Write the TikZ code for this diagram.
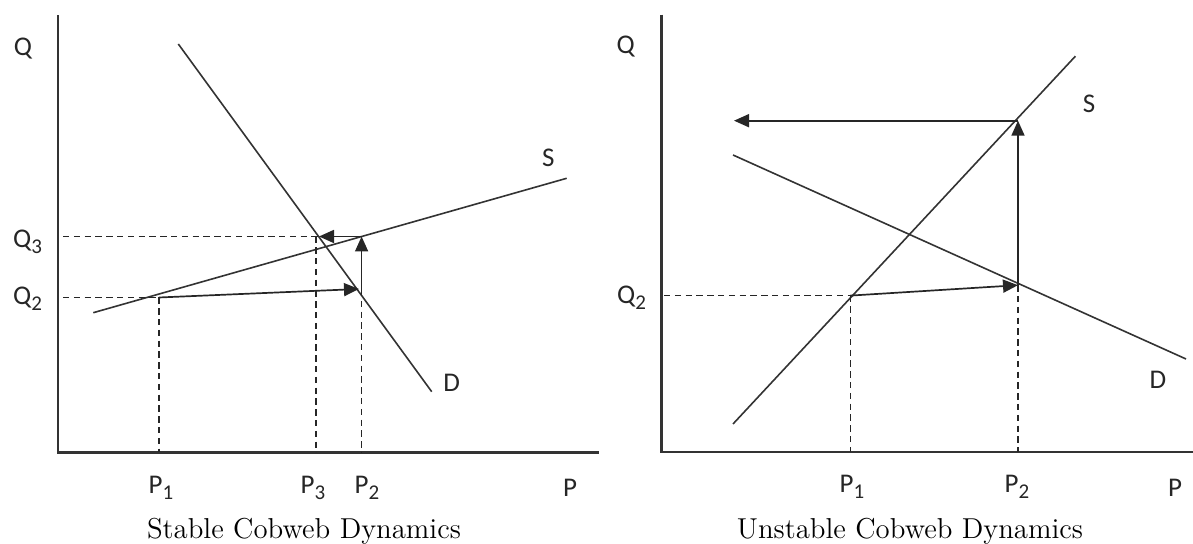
\documentclass[tikz,border=0pt]{standalone}
\usepackage{fontspec}
\newfontfamily\lblfont{Carlito}
\usetikzlibrary{arrows.meta,positioning,calc}
\newcommand{\lsub}[1]{\raisebox{-0.45ex}{\fontsize{10.5}{12}\selectfont #1}}
\tikzset{
  ax/.style={line width=1.2pt,black!80},
  curve/.style={line width=0.8pt,black!80},
  helperln/.style={dash pattern=on 3.2pt off 2.2pt,line width=0.75pt,black!85},
  stepar/.style={-{Triangle[length=7.5pt,width=6.5pt]},line width=0.85pt,black!85},
  tlab/.style={font=\lblfont\fontsize{13.5}{15}\selectfont,inner sep=0pt,black!85},
  captxt/.style={font=\fontsize{14.4}{17}\selectfont,inner sep=0pt},
}

\begin{document}
\begin{tikzpicture}[x=0.5pt,y=0.5pt]
  \useasboundingbox (0,0) rectangle (1193,544);
  % ---- stable ----
  \coordinate (o1) at (58,91.5);
  \coordinate (qtop1) at (58,528.5);
  \coordinate (pend1) at (599,91.5);
  \coordinate (dtop1) at (178.3,500);
  \coordinate (dbot1) at (431.7,152.3);
  \coordinate (sbot1) at (93.3,231.3);
  \coordinate (stop1) at (566.7,365.7);
  \coordinate (a1) at (159,246.5);
  \coordinate (b1) at (359,255);
  \coordinate (bb1) at (361.6,254);
  \coordinate (c1) at (361.6,307.5);
  \coordinate (e1) at (319,307.5);
  \draw[ax] (qtop1)--(o1)--(pend1);
  \draw[curve] (dtop1)--(dbot1);
  \draw[curve] (sbot1)--(stop1);
  % Hilfslinien
  \draw[helperln] (63,246.5)--(a1);
  \draw[helperln] (63,307.5)--(e1);
  \draw[helperln] (a1)--(a1|-o1);
  \draw[helperln] (316,307.5)--(316,91.5);
  \draw[helperln] (bb1)--(bb1|-o1);
  % Spinnweb
  \draw[stepar] (a1)--(b1);
  \draw[stepar] (bb1)--(c1);
  \draw[stepar] (c1)--(e1);
  % Beschriftung
  \node[tlab] (lq1) at (23,495.4) {Q};
  \node[tlab] (lq3) at (27.5,302) {Q\lsub{3}};
  \node[tlab] (lq2) at (27.5,245) {Q\lsub{2}};
  \node[tlab] (ls1) at (548.3,385.7) {S};
  \node[tlab] (ld1) at (451.7,160.7) {D};
  \node[tlab] (lp1) at (161,56) {P\lsub{1}};
  \node[tlab] (lp3) at (313,56) {P\lsub{3}};
  \node[tlab] (lp2) at (367,56) {P\lsub{2}};
  \node[tlab] (lp) at (570,56.5) {P};
  \node[captxt] (t1) at (304,13) {Stable Cobweb Dynamics};
  % ---- unstable ----
  \coordinate (o2) at (661.3,92);
  \coordinate (qtop2) at (661.3,529.4);
  \coordinate (pend2) at (1193,92);
  \coordinate (sbot2) at (733,120);
  \coordinate (stop2) at (1075.4,487.8);
  \coordinate (dtop2) at (733,389);
  \coordinate (dbot2) at (1186,185);
  \coordinate (a2) at (850.5,248.4);
  \coordinate (b2) at (1018,258.8);
  \coordinate (c2) at (1018,423.3);
  \coordinate (e2) at (734,423.3);
  \draw[ax] (qtop2)--(o2)--(pend2);
  \draw[curve] (sbot2)--(stop2);
  \draw[curve] (dtop2)--(dbot2);
  \draw[helperln] (664,248.4)--(a2);
  \draw[helperln] (a2)--(a2|-o2);
  \draw[helperln] (b2)--(b2|-o2);
  \draw[stepar] (a2)--(b2);
  \draw[stepar] (b2)--(c2);
  \draw[stepar] (c2)--(e2);
  \node[tlab] (lq2b) at (625.7,497.2) {Q};
  \node[tlab] (lq2c) at (631.5,246.3) {Q\lsub{2}};
  \node[tlab] (ls2) at (1089,440) {S};
  \node[tlab] (ld2) at (1158,164) {D};
  \node[tlab] (lp1b) at (852,57) {P\lsub{1}};
  \node[tlab] (lp2b) at (1017,57) {P\lsub{2}};
  \node[tlab] (lpb) at (1175,56.5) {P};
  \node[captxt] (t2) at (910,13) {Unstable Cobweb Dynamics};
\end{tikzpicture}
\end{document}
